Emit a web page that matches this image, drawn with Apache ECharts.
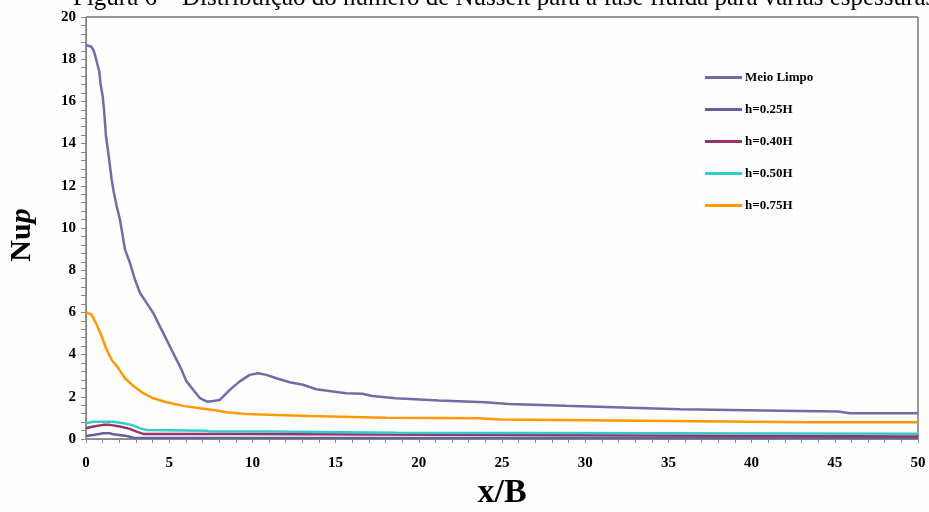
<!DOCTYPE html>
<html>
<head>
<meta charset="utf-8">
<script src="https://cdn.jsdelivr.net/npm/echarts@6/dist/echarts.min.js"></script>
<style>
html,body{margin:0;padding:0;background:#fefefe;}
#chart{width:929px;height:512px;}
</style>
</head>
<body>
<div id="chart"></div>
<script>
// ---- data ----
const seriesNames = ["Meio Limpo", "h=0.25H", "h=0.40H", "h=0.50H", "h=0.75H"];
const xTicks = [0, 5, 10, 15, 20, 25, 30, 35, 40, 45, 50];
const yTicks = [0, 2, 4, 6, 8, 10, 12, 14, 16, 18, 20];

const meioX = [0, 0.3, 0.44, 0.54, 0.64, 0.8, 0.88, 1.0, 1.08, 1.14, 1.2, 1.34, 1.44, 1.54, 1.64, 1.84, 2.04, 2.14, 2.34, 2.64, 2.94, 3.24, 3.64, 4.04, 4.44, 4.84, 5.14, 5.44, 5.74, 6.04, 6.44, 6.84, 7.24, 7.44, 7.84, 8.04, 8.64, 9.24, 9.84, 10.34, 10.84, 11.44, 12.24, 13.04, 13.84, 14.84, 15.64, 16.6, 17.2, 18.6, 21.2, 24.0, 25.4, 28.8, 32.2, 35.7, 40.7, 45.2, 45.9, 50];
const meioY = [18.67, 18.6, 18.45, 18.2, 17.9, 17.4, 16.8, 16.26, 15.63, 15.0, 14.36, 13.57, 12.94, 12.3, 11.83, 11.04, 10.4, 9.94, 8.99, 8.35, 7.56, 6.93, 6.45, 5.97, 5.34, 4.71, 4.23, 3.76, 3.28, 2.73, 2.33, 1.94, 1.78, 1.78, 1.82, 1.85, 2.33, 2.73, 3.04, 3.12, 3.04, 2.88, 2.69, 2.57, 2.36, 2.25, 2.17, 2.14, 2.04, 1.93, 1.82, 1.74, 1.66, 1.57, 1.49, 1.41, 1.35, 1.30, 1.22, 1.22];

const h25X = [0, 0.44, 1.04, 1.44, 1.64, 2.44, 2.84, 50];
const h25Y = [0.14, 0.19, 0.27, 0.27, 0.22, 0.14, 0.06, 0.05];

const h40X = [0, 0.44, 1.04, 1.44, 2.04, 2.64, 3.04, 3.44, 8.84, 8.94, 25.5, 25.6, 50];
const h40Y = [0.51, 0.59, 0.67, 0.67, 0.59, 0.48, 0.35, 0.24, 0.24, 0.19, 0.19, 0.12, 0.12];

const h50X = [0, 0.44, 1.64, 2.24, 2.74, 3.24, 3.64, 7.24, 7.44, 10.9, 11.0, 18.7, 18.8, 50];
const h50Y = [0.75, 0.82, 0.82, 0.75, 0.67, 0.51, 0.43, 0.39, 0.35, 0.35, 0.30, 0.30, 0.25, 0.25];

const h75X = [0, 0.34, 0.64, 0.94, 1.24, 1.54, 1.94, 2.34, 2.84, 3.44, 4.04, 4.84, 5.84, 6.84, 7.84, 8.44, 9.64, 11.44, 13.44, 18.04, 23.6, 24.9, 33.4, 43.4, 50];
const h75Y = [6.0, 5.89, 5.42, 4.86, 4.23, 3.76, 3.36, 2.88, 2.52, 2.17, 1.93, 1.74, 1.57, 1.46, 1.35, 1.27, 1.19, 1.14, 1.09, 1.01, 0.98, 0.93, 0.87, 0.79, 0.79];

const titleText = "Figura 6 – Distribuição do número de Nusselt para a fase fluida para várias espessuras";

// ---- build ----
const colors = ["#6E6EA4", "#6262A0", "#993366", "#33CCCC", "#FF9900"];
const xs = [meioX, h25X, h40X, h50X, h75X];
const ys = [meioY, h25Y, h40Y, h50Y, h75Y];
function pairs(a, b) { return a.map((v, i) => [v, b[i]]); }

const serif = "'Liberation Serif', 'Times New Roman', serif";
const chart = echarts.init(document.getElementById('chart'), null, {renderer: 'canvas'});
chart.setOption({
  backgroundColor: '#fefefe',
  animation: false,
  color: colors,
  graphic: [
    {
      type: 'text', left: 73, top: -14,
      style: {text: titleText, font: "25px " + serif, fill: '#000'}
    },
    {
      type: 'text', x: 22, y: 235, rotation: Math.PI / 2,
      style: {
        text: '{n|Nu}{p|p}', align: 'center', verticalAlign: 'middle',
        rich: {
          n: {font: "bold 30px " + serif, fill: '#000'},
          p: {font: "italic bold 30px " + serif, fill: '#000'}
        }
      }
    }
  ],
  legend: {
    orient: 'vertical', left: 700, top: 66,
    icon: 'rect', itemWidth: 37, itemHeight: 3, itemGap: 19,
    textStyle: {fontFamily: serif, fontWeight: 'bold', fontSize: 13, color: '#000', padding: [0, 0, 0, -2]},
    data: seriesNames
  },
  grid: {
    left: 86, right: 11, top: 17, bottom: 73,
    outerBoundsMode: 'none', containLabel: false,
    show: true, borderColor: '#333', borderWidth: 1, backgroundColor: 'transparent'
  },
  xAxis: {
    type: 'value', min: 0, max: 50, interval: 5,
    name: 'x/B', nameLocation: 'middle', nameGap: 37,
    nameTextStyle: {fontFamily: serif, fontWeight: 'bold', fontSize: 34, color: '#000'},
    axisLine: {show: true, lineStyle: {color: '#888', width: 1}},
    axisTick: {show: true, length: 4, lineStyle: {color: '#888'}},
    minorTick: {show: true, splitNumber: 5, length: 4, lineStyle: {color: '#888'}},
    splitLine: {show: false},
    axisLabel: {fontFamily: serif, fontWeight: 'bold', fontSize: 15, color: '#000', margin: 17,
      formatter: v => xTicks.includes(v) ? String(v) : ''}
  },
  yAxis: {
    type: 'value', min: 0, max: 20, interval: 2,
    axisLine: {show: true, lineStyle: {color: '#888', width: 1}},
    axisTick: {show: true, length: 5, lineStyle: {color: '#888'}},
    minorTick: {show: true, splitNumber: 5, length: 5, lineStyle: {color: '#888'}},
    splitLine: {show: false},
    axisLabel: {fontFamily: serif, fontWeight: 'bold', fontSize: 15, color: '#000', margin: 10,
      formatter: v => yTicks.includes(v) ? String(v) : ''}
  },
  series: seriesNames.map((n, i) => ({
    name: n, type: 'line', data: pairs(xs[i], ys[i]),
    symbol: 'none', showSymbol: false, smooth: false,
    lineStyle: {width: 2.5, color: colors[i]},
    itemStyle: {color: colors[i]}
  }))
});
</script>
</body>
</html>
